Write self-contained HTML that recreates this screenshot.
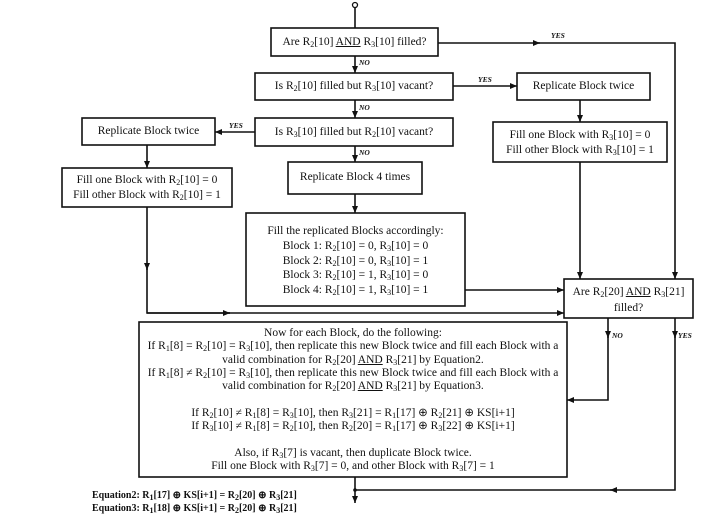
<!DOCTYPE html>
<html><head><meta charset="utf-8"><style>
body{margin:0;width:711px;height:522px;background:#fff;position:relative;overflow:hidden;font-family:"Liberation Serif",serif;color:#111}
.t{position:absolute;font-size:11.5px;white-space:nowrap;text-align:center;line-height:14.5px}
sub{font-size:8px;vertical-align:-2px;line-height:0}
.l{position:absolute;font-size:7.5px;font-style:italic;font-weight:bold;white-space:nowrap}
u{text-decoration:underline}
</style></head><body>
<svg width="711" height="522" style="position:absolute;left:0;top:0" fill="none" stroke="#111" stroke-width="1.6">
<defs><marker id="a" markerWidth="8" markerHeight="8" refX="7" refY="4" orient="auto" markerUnits="userSpaceOnUse"><path d="M0,1 L7,4 L0,7 Z" fill="#111" stroke="none"/></marker></defs>
<circle cx="355" cy="5" r="2.5" stroke-width="1.3"/>
<line x1="355" y1="8" x2="355" y2="28"/>
<rect x="271" y="28" width="167" height="28"/>
<rect x="255" y="73" width="198" height="27"/>
<rect x="517" y="73" width="133" height="27"/>
<rect x="255" y="118" width="198" height="28"/>
<rect x="82" y="118" width="133" height="27"/>
<rect x="493" y="122" width="174" height="40"/>
<rect x="62" y="168" width="170" height="39"/>
<rect x="288" y="162" width="134" height="32"/>
<rect x="246" y="213" width="219" height="93"/>
<rect x="564" y="279" width="129" height="39"/>
<rect x="139" y="322" width="428" height="155"/>
<line x1="438" y1="43" x2="540" y2="43" marker-end="url(#a)"/>
<polyline points="538,43 675,43 675,279" marker-end="url(#a)"/>
<line x1="355" y1="56" x2="355" y2="73" marker-end="url(#a)"/>
<line x1="453" y1="86" x2="517" y2="86" marker-end="url(#a)"/>
<line x1="355" y1="100" x2="355" y2="118" marker-end="url(#a)"/>
<line x1="580" y1="100" x2="580" y2="122" marker-end="url(#a)"/>
<line x1="255" y1="132" x2="215" y2="132" marker-end="url(#a)"/>
<line x1="147" y1="145" x2="147" y2="168" marker-end="url(#a)"/>
<line x1="355" y1="146" x2="355" y2="162" marker-end="url(#a)"/>
<line x1="355" y1="194" x2="355" y2="213" marker-end="url(#a)"/>
<line x1="580" y1="162" x2="580" y2="279" marker-end="url(#a)"/>
<line x1="147" y1="207" x2="147" y2="270" marker-end="url(#a)"/>
<polyline points="147,268 147,313 230,313"/>
<line x1="147" y1="313" x2="230" y2="313" marker-end="url(#a)"/>
<line x1="228" y1="313" x2="564" y2="313" marker-end="url(#a)"/>
<line x1="465" y1="290" x2="564" y2="290" marker-end="url(#a)"/>
<line x1="608" y1="318" x2="608" y2="338" marker-end="url(#a)"/>
<polyline points="608,336 608,400 567,400" marker-end="url(#a)"/>
<line x1="675" y1="318" x2="675" y2="338" marker-end="url(#a)"/>
<polyline points="675,336 675,490 610,490" marker-end="url(#a)"/>
<line x1="612" y1="490" x2="355" y2="490"/>
<line x1="355" y1="477" x2="355" y2="503" marker-end="url(#a)"/>
<circle cx="355" cy="490" r="1.8" fill="#111" stroke="none"/>
</svg>
<div class="t" style="left:271px;top:35px;width:167px">Are R<sub>2</sub>[10] <u>AND</u> R<sub>3</sub>[10] filled?</div>
<div class="t" style="left:255px;top:79px;width:198px">Is R<sub>2</sub>[10] filled but R<sub>3</sub>[10] vacant?</div>
<div class="t" style="left:517px;top:79px;width:133px">Replicate Block twice</div>
<div class="t" style="left:255px;top:125px;width:198px">Is R<sub>3</sub>[10] filled but R<sub>2</sub>[10] vacant?</div>
<div class="t" style="left:82px;top:124px;width:133px">Replicate Block twice</div>
<div class="t" style="left:493px;top:128px;width:174px">Fill one Block with R<sub>3</sub>[10] = 0<br>Fill other Block with R<sub>3</sub>[10] = 1</div>
<div class="t" style="left:62px;top:173px;width:170px">Fill one Block with R<sub>2</sub>[10] = 0<br>Fill other Block with R<sub>2</sub>[10] = 1</div>
<div class="t" style="left:288px;top:170px;width:134px">Replicate Block 4 times</div>
<div class="t" style="left:246px;top:224px;width:219px;line-height:14.8px">Fill the replicated Blocks accordingly:<br>Block 1: R<sub>2</sub>[10] = 0, R<sub>3</sub>[10] = 0<br>Block 2: R<sub>2</sub>[10] = 0, R<sub>3</sub>[10] = 1<br>Block 3: R<sub>2</sub>[10] = 1, R<sub>3</sub>[10] = 0<br>Block 4: R<sub>2</sub>[10] = 1, R<sub>3</sub>[10] = 1</div>
<div class="t" style="left:564px;top:284px;width:129px;line-height:16px">Are R<sub>2</sub>[20] <u>AND</u> R<sub>3</sub>[21]<br>filled?</div>
<div class="t" style="left:139px;top:327px;width:428px;line-height:13.3px">Now for each Block, do the following:<br>If R<sub>1</sub>[8] = R<sub>2</sub>[10] = R<sub>3</sub>[10], then replicate this new Block twice and fill each Block with a<br>valid combination for R<sub>2</sub>[20] <u>AND</u> R<sub>3</sub>[21] by Equation2.<br>If R<sub>1</sub>[8] ≠ R<sub>2</sub>[10] = R<sub>3</sub>[10], then replicate this new Block twice and fill each Block with a<br>valid combination for R<sub>2</sub>[20] <u>AND</u> R<sub>3</sub>[21] by Equation3.<br><br>If R<sub>2</sub>[10] ≠ R<sub>1</sub>[8] = R<sub>3</sub>[10], then R<sub>3</sub>[21] = R<sub>1</sub>[17] ⊕ R<sub>2</sub>[21] ⊕ KS[i+1]<br>If R<sub>3</sub>[10] ≠ R<sub>1</sub>[8] = R<sub>2</sub>[10], then R<sub>2</sub>[20] = R<sub>1</sub>[17] ⊕ R<sub>3</sub>[22] ⊕ KS[i+1]<br><br>Also, if R<sub>3</sub>[7] is vacant, then duplicate Block twice.<br>Fill one Block with R<sub>3</sub>[7] = 0, and other Block with R<sub>3</sub>[7] = 1</div>
<div class="t" style="left:92px;top:489px;text-align:left;font-weight:bold;font-size:10px;line-height:13px">Equation2: R<sub>1</sub>[17] ⊕ KS[i+1] = R<sub>2</sub>[20] ⊕ R<sub>3</sub>[21]<br>Equation3: R<sub>1</sub>[18] ⊕ KS[i+1] = R<sub>2</sub>[20] ⊕ R<sub>3</sub>[21]</div>
<div class="l" style="left:551px;top:31px">YES</div>
<div class="l" style="left:478px;top:75px">YES</div>
<div class="l" style="left:229px;top:121px">YES</div>
<div class="l" style="left:359px;top:58px">NO</div>
<div class="l" style="left:359px;top:103px">NO</div>
<div class="l" style="left:359px;top:148px">NO</div>
<div class="l" style="left:612px;top:331px">NO</div>
<div class="l" style="left:678px;top:331px">YES</div>
</body></html>
